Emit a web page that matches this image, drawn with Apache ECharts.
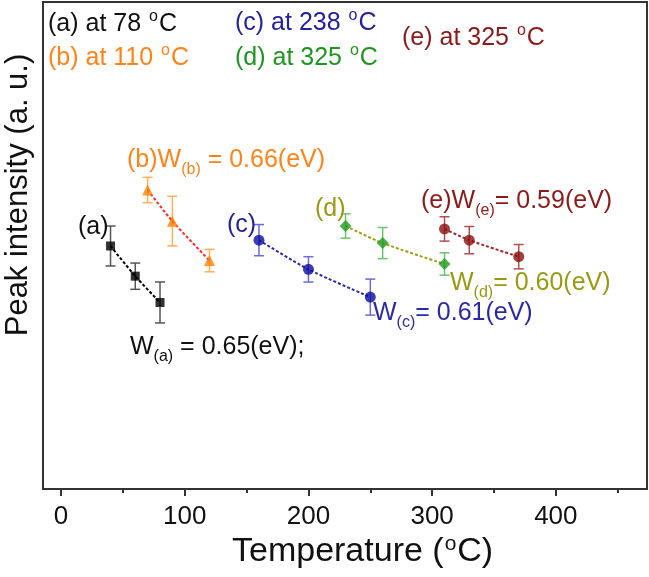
<!DOCTYPE html>
<html>
<head>
<meta charset="utf-8">
<script src="https://cdn.jsdelivr.net/npm/echarts@6/dist/echarts.min.js"></script>
<style>
html,body{margin:0;padding:0;background:#fff;}
#c{width:649px;height:577px;}
</style>
</head>
<body>
<div id="c"></div>
<script>
// ---- data ----
const xTicks = [0, 100, 200, 300, 400];
const xMinorTicks = [50, 150, 250, 350, 450];

const tempA = [40, 60, 80];
const intA  = [49.9, 43.7, 38.3];
const errA  = [4.1, 2.7, 4.2];

const tempB = [70, 90, 120];
const intB  = [61.4, 55.0, 46.9];
const errB  = [2.6, 5.1, 2.3];

const tempC = [160, 200, 250];
const intC  = [51.1, 45.1, 39.4];
const errC  = [3.2, 2.6, 3.7];

const tempD = [230, 260, 310];
const intD  = [54.0, 50.5, 46.2];
const errD  = [2.5, 3.2, 2.3];

const tempE = [310, 330, 370];
const intE  = [53.4, 51.1, 47.7];
const errE  = [2.5, 2.8, 2.5];

const legendTexts = ['(a) at 78 ', '(b) at 110 ', '(c) at 238 ', '(d) at 325 ', '(e) at 325 '];
const xName = 'Temperature (';
const yName = 'Peak intensity (a. u.)';

// ---- styling ----
const FONT = '"Liberation Sans", Arial, sans-serif';
const seriesDefs = [
  {t: tempA, v: intA, e: errA, marker: '#000000', line: '#000000', err: '#555555', symbol: 'rect', size: 9},
  {t: tempB, v: intB, e: errB, marker: '#ff7f00', line: '#ff2a2a', err: '#ffae5a', symbol: 'triangle', size: 11},
  {t: tempC, v: intC, e: errC, marker: '#0c0ca0', line: '#2a2aa8', err: '#6a6ad8', symbol: 'circle', size: 11},
  {t: tempD, v: intD, e: errD, marker: '#1f9a1f', line: '#a0a010', err: '#6cc46c', symbol: 'diamond', size: 12},
  {t: tempE, v: intE, e: errE, marker: '#8b1010', line: '#a02828', err: '#b05050', symbol: 'circle', size: 11}
];

function errRender(color) {
  return function (params, api) {
    const x = api.value(0), lo = api.value(1), hi = api.value(2);
    const p1 = api.coord([x, hi]);
    const p2 = api.coord([x, lo]);
    const w = 5;
    const st = {stroke: color, lineWidth: 1.5};
    return {
      type: 'group',
      children: [
        {type: 'line', shape: {x1: p1[0], y1: p1[1], x2: p2[0], y2: p2[1]}, style: st},
        {type: 'line', shape: {x1: p1[0] - w, y1: p1[1], x2: p1[0] + w, y2: p1[1]}, style: st},
        {type: 'line', shape: {x1: p2[0] - w, y1: p2[1], x2: p2[0] + w, y2: p2[1]}, style: st}
      ]
    };
  };
}

const series = [];
seriesDefs.forEach(function (d) {
  const pts = d.t.map(function (t, k) { return [t, d.v[k]]; });
  const errs = d.t.map(function (t, k) { return [t, d.v[k] - d.e[k], d.v[k] + d.e[k]]; });
  series.push({
    type: 'custom', xAxisIndex: 0, yAxisIndex: 0, renderItem: errRender(d.err),
    data: errs, z: 2, silent: true, clip: false
  });
  series.push({
    type: 'line', xAxisIndex: 0, yAxisIndex: 0, data: pts, smooth: 0.25, showSymbol: false,
    lineStyle: {color: d.line, width: 2, type: [3, 2]}, z: 3, silent: true
  });
  series.push({
    type: 'scatter', xAxisIndex: 0, yAxisIndex: 0, data: pts, symbol: d.symbol, symbolSize: d.size,
    itemStyle: {color: d.marker}, z: 4, silent: true
  });
});

function richFor(color, size, small, smallPadTop) {
  const lh = Math.round(size * 1.35);
  return {
    n: {fontSize: size, fontFamily: FONT, fill: color, lineHeight: lh},
    sup: {fontSize: small, fontFamily: FONT, fill: color, verticalAlign: 'top', lineHeight: lh, padding: [smallPadTop || 2, 1, 0, 1]},
    sub: {fontSize: small, fontFamily: FONT, fill: color, verticalAlign: 'bottom', lineHeight: lh, padding: [0, 0, 0, 0]}
  };
}
function txt(left, cy, text, color, size, small) {
  const lh = Math.round(size * 1.35);
  return {
    type: 'text', left: left, top: cy - lh / 2, z: 10, silent: true,
    style: {text: text, rich: richFor(color, size, small), verticalAlign: 'top'}
  };
}

const graphics = [
  txt(48, 24, '{n|' + legendTexts[0] + '}{sup|o}{n|C}', '#111111', 25, 16),
  txt(48, 58, '{n|' + legendTexts[1] + '}{sup|o}{n|C}', '#ff8318', 25, 16),
  txt(235, 23, '{n|' + legendTexts[2] + '}{sup|o}{n|C}', '#23239a', 25, 16),
  txt(235, 58, '{n|' + legendTexts[3] + '}{sup|o}{n|C}', '#1f951f', 25, 16),
  txt(402, 38, '{n|' + legendTexts[4] + '}{sup|o}{n|C}', '#8b1a1a', 25, 16),

  txt(127, 165, '{n|(b)W}{sub|(b)}{n| = 0.66(eV)}', '#ff8318', 25, 16),
  txt(78, 232, '{n|(a)}', '#111111', 25, 16),
  txt(130, 352, '{n|W}{sub|(a)}{n| = 0.65(eV);}', '#111111', 25, 16),
  txt(227, 230, '{n|(c)}', '#23239a', 25, 16),
  txt(373, 318, '{n|W}{sub|(c)}{n|= 0.61(eV)}', '#2a2aa8', 25, 16),
  txt(315, 214, '{n|(d)}', '#9a9a12', 25, 16),
  txt(450, 288, '{n|W}{sub|(d)}{n|= 0.60(eV)}', '#9a9a12', 25, 16),
  txt(421, 206, '{n|(e)W}{sub|(e)}{n|= 0.59(eV)}', '#8b1a1a', 25, 16),

  // x axis title
  {
    type: 'text', left: 232, top: 530, z: 10, silent: true,
    style: {text: '{n|' + xName + '}{sup|o}{n|C)}', rich: {
      n: {fontSize: 34, fontFamily: FONT, fill: '#111', lineHeight: 44},
      sup: {fontSize: 21, fontFamily: FONT, fill: '#111', verticalAlign: 'top', lineHeight: 44, padding: [4, 1, 0, 1]}
    }}
  },
  // y axis title
  {
    type: 'text', x: 18, y: 195, rotation: Math.PI / 2, z: 10, silent: true,
    style: {text: yName, fill: '#111', fontSize: 31, fontFamily: FONT, align: 'center', verticalAlign: 'middle'}
  }
];

const chart = echarts.init(document.getElementById('c'), null, {renderer: 'canvas'});
chart.setOption({
  animation: false,
  backgroundColor: '#ffffff',
  grid: {left: 43, top: 2, width: 604, height: 487, show: true, borderColor: '#333333', borderWidth: 2,
         backgroundColor: 'transparent', containLabel: false, outerBoundsMode: 'none'},
  xAxis: [
    {
      type: 'value', min: -14.6, max: 473.7, position: 'bottom',
      splitLine: {show: false},
      axisLine: {show: true, lineStyle: {color: '#333', width: 2}},
      axisTick: {show: true, customValues: xTicks, length: 7, lineStyle: {color: '#333', width: 2}},
      axisLabel: {show: true, customValues: xTicks, fontSize: 26, fontFamily: FONT, color: '#111', margin: 15}
    },
    {
      type: 'value', min: -14.6, max: 473.7, position: 'bottom', gridIndex: 0,
      splitLine: {show: false},
      axisLine: {show: false},
      axisTick: {show: true, customValues: xMinorTicks, length: 4, lineStyle: {color: '#333', width: 2}},
      axisLabel: {show: false, customValues: xMinorTicks}
    }
  ],
  yAxis: {
    type: 'value', min: 0, max: 100,
    splitLine: {show: false}, axisLine: {show: false}, axisTick: {show: false}, axisLabel: {show: false}
  },
  graphic: graphics,
  series: series
});
</script>
</body>
</html>
